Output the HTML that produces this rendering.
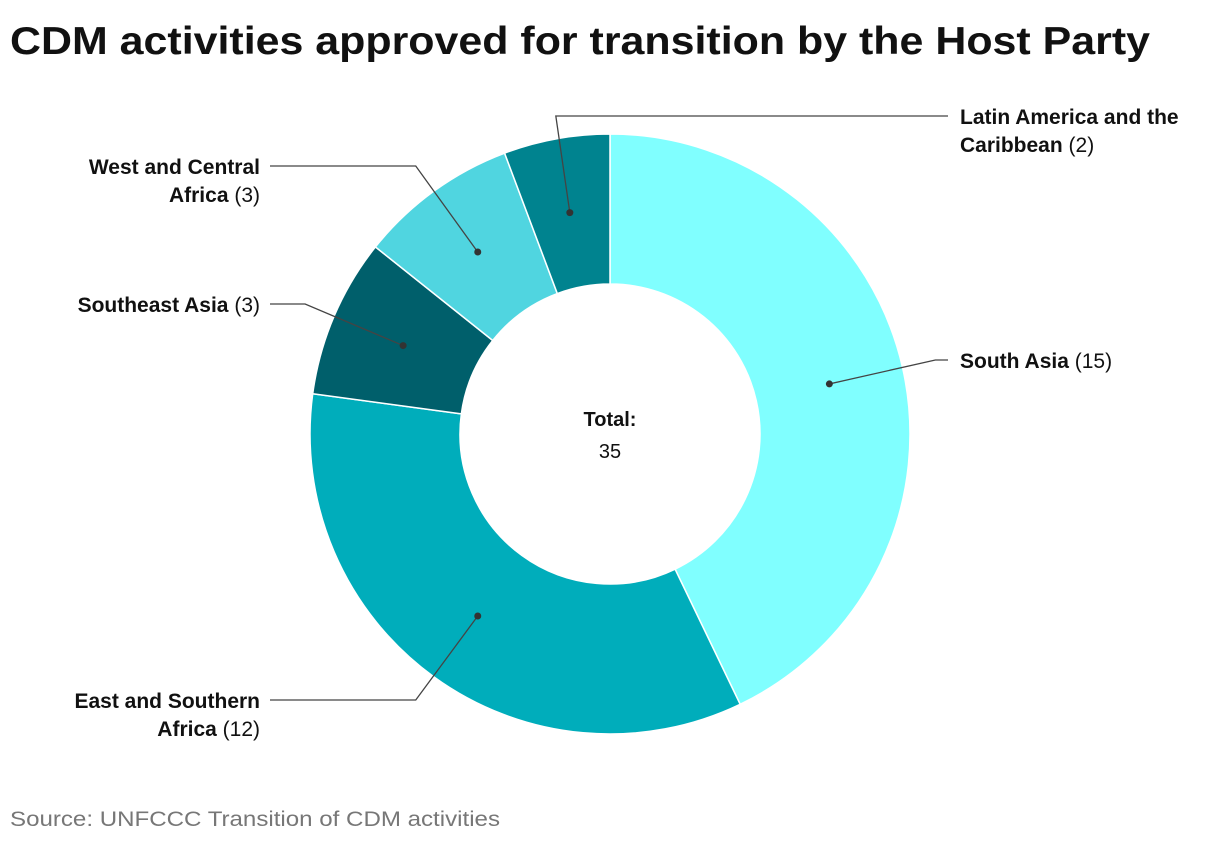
<!DOCTYPE html>
<html><head><meta charset="utf-8"><style>
body{margin:0;background:#fff;width:1220px;height:842px;overflow:hidden;font-family:"Liberation Sans",sans-serif}
</style></head><body>
<svg width="1220" height="842">
<text x="10" y="54" font-size="39" font-weight="bold" fill="#111" textLength="1140" lengthAdjust="spacingAndGlyphs">CDM activities approved for transition by the Host Party</text>
<g id="slices"></g>
<g id="labels"></g>
<text x="610" y="426" text-anchor="middle" font-size="20" font-weight="bold" fill="#111">Total:</text>
<text x="610" y="458" text-anchor="middle" font-size="20" fill="#111" id="totalv"></text>
<text x="10" y="826" font-size="21" fill="#777" textLength="490" lengthAdjust="spacingAndGlyphs">Source: UNFCCC Transition of CDM activities</text>
</svg>
<script>
const categories=["South Asia","East and Southern Africa","Southeast Asia","West and Central Africa","Latin America and the Caribbean"];
const values=[15,12,3,3,2];
const colors=["#80FFFF","#00ADBB","#005F6B","#50D5E0","#00838F"];
const labelLines=[["South Asia"],["East and Southern","Africa"],["Southeast Asia"],["West and Central","Africa"],["Latin America and the","Caribbean"]];
const labelY=[360,700,304,166,116];
const labelRight=[true,false,false,false,true];
const elbowDx=[106,-62,-98,-62,-14];
const cx=610,cy=434,R=300,r=150,rd=225;
const ns="http://www.w3.org/2000/svg";
const total=values.reduce((a,b)=>a+b,0);
document.getElementById('totalv').textContent=total;
function pt(a,rad){return [cx+rad*Math.sin(a),cy-rad*Math.cos(a)];}
let acc=0;const sg=document.getElementById('slices'),lg=document.getElementById('labels');
values.forEach((v,i)=>{
 const a0=acc/total*2*Math.PI;acc+=v;const a1=acc/total*2*Math.PI;
 const lf=(a1-a0)>Math.PI?1:0;
 const [x0,y0]=pt(a0,R),[x1,y1]=pt(a1,R),[x2,y2]=pt(a1,r),[x3,y3]=pt(a0,r);
 const p=document.createElementNS(ns,'path');
 p.setAttribute('d',`M${x0},${y0}A${R},${R} 0 ${lf} 1 ${x1},${y1}L${x2},${y2}A${r},${r} 0 ${lf} 0 ${x3},${y3}Z`);
 p.setAttribute('fill',colors[i]);p.setAttribute('stroke','#fff');p.setAttribute('stroke-width','1.5');
 
 
 sg.appendChild(p);
 const am=(a0+a1)/2;const [dx,dy]=pt(am,rd);
 const right=labelRight[i];
 const ey=labelY[i],ex=dx+elbowDx[i];
 const hx=right?948:270,tx=right?960:260,anchor=right?'start':'end';
 const pl=document.createElementNS(ns,'polyline');
 pl.setAttribute('points',`${dx},${dy} ${ex},${ey} ${hx},${ey}`);
 pl.setAttribute('fill','none');pl.setAttribute('stroke','#444');pl.setAttribute('stroke-width','1.3');
 
 
 lg.appendChild(pl);
 const c=document.createElementNS(ns,'circle');
 c.setAttribute('cx',dx);c.setAttribute('cy',dy);c.setAttribute('r',3.5);c.setAttribute('fill','#333');
 
 
 lg.appendChild(c);
 const lines=labelLines[i];
 lines.forEach((ln,j)=>{
  const t=document.createElementNS(ns,'text');
  t.setAttribute('x',tx);t.setAttribute('y',ey+8+j*28);
  t.setAttribute('text-anchor',anchor);t.setAttribute('font-size','21');t.setAttribute('fill','#111');
  
  
  const b=document.createElementNS(ns,'tspan');b.setAttribute('font-weight','bold');b.textContent=ln;t.appendChild(b);
  if(j==lines.length-1){const s=document.createElementNS(ns,'tspan');s.textContent=' ('+v+')';t.appendChild(s);}
  lg.appendChild(t);
 });
});
</script>
</body></html>
